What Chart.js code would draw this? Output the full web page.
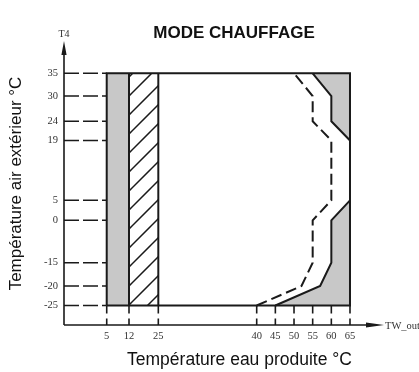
<!DOCTYPE html>
<html lang="fr">
<head>
<meta charset="utf-8">
<title>Mode chauffage</title>
<script src="https://cdn.jsdelivr.net/npm/chart.js@4.4.1/dist/chart.umd.min.js"></script>
<style>
  html, body { margin: 0; padding: 0; background: #fff; }
</style>
</head>
<body>
<canvas id="chart" width="419" height="372"></canvas>
<script>
// Tick values (°C)
const twTicks = [5, 12, 25, 40, 45, 50, 55, 60, 65];
const t4Ticks = [35, 30, 24, 19, 5, 0, -15, -20, -25];

// Operating box
const twMin = 5, twMax = 65;
const t4Min = -25, t4Max = 35;

// Left bands (TW_out ranges)
const greyBand = [5, 12];
const hatchBand = [12, 25];

// Solid limit, upper and lower part
const limitTopTw = [55, 60, 60, 65];
const limitTopT4 = [35, 30, 24, 19];
const limitLowTw = [45, 57, 60, 60, 65];
const limitLowT4 = [-25, -20, -15, 0, 5];

// Dashed limit
const dashTw = [40, 52, 55, 55, 60, 60, 55, 55, 50];
const dashT4 = [-25, -20, -15, 0, 5, 19, 24, 30, 35];

const INK = '#1a1a1a';
const GREY = '#c8c8c8';
const SERIF = '"Liberation Serif", "DejaVu Serif", serif';
const SANS = '"Liberation Sans", Arial, sans-serif';

// Linear scale made of segments, stops = [value, fraction of axis]
class StopScale extends Chart.LinearScale {
  static id = 'stops';
  static defaults = Chart.LinearScale.defaults;

  buildTicks() {
    return this.options.tickValues.map(value => ({ value }));
  }
  getPixelForValue(value) {
    if (value === null || value === undefined) return NaN;
    const s = this.options.stops;
    let i = 1;
    while (i < s.length - 1 && value > s[i][0]) i++;
    const [v0, d0] = s[i - 1], [v1, d1] = s[i];
    return this.getPixelForDecimal(d0 + (value - v0) / (v1 - v0) * (d1 - d0));
  }
  getValueForPixel(pixel) {
    const d = this.getDecimalForPixel(pixel);
    const s = this.options.stops;
    let i = 1;
    while (i < s.length - 1 && d > s[i][1]) i++;
    const [v0, d0] = s[i - 1], [v1, d1] = s[i];
    return v0 + (d - d0) / (d1 - d0) * (v1 - v0);
  }
}
Chart.register(StopScale);

const pts = (xs, ys) => xs.map((x, i) => ({ x, y: ys[i] }));

// Hatch pattern for the 12-25 band
function hatch() {
  const size = 19;
  const c = document.createElement('canvas');
  c.width = c.height = size;
  const g = c.getContext('2d');
  g.strokeStyle = INK;
  g.lineWidth = 1.5;
  g.beginPath();
  g.moveTo(-2, 18); g.lineTo(18, -2);
  g.moveTo(14, 21); g.lineTo(21, 14);
  g.stroke();
  return g.createPattern(c, 'repeat');
}

const lineDefaults = { showLine: true, pointRadius: 0, tension: 0, borderColor: INK, borderWidth: 2, fill: false };

// Axes, arrows, tick guides and labels around the plot
const decor = {
  id: 'decor',
  afterDatasetsDraw(chart) {
    const { ctx, chartArea, scales: { x, y } } = chart;
    const ox = chartArea.left, oy = chartArea.bottom;
    ctx.save();
    ctx.strokeStyle = INK;
    ctx.fillStyle = INK;

    // dashed guides from the axes to the box
    ctx.lineWidth = 1.6;
    ctx.setLineDash([15, 4]);
    const xLeft = x.getPixelForValue(twMin);
    t4Ticks.forEach(v => {
      const py = y.getPixelForValue(v);
      ctx.beginPath(); ctx.moveTo(ox, py); ctx.lineTo(xLeft, py); ctx.stroke();
    });
    ctx.setLineDash([8, 5]);
    const yBottom = y.getPixelForValue(t4Min);
    twTicks.forEach(v => {
      const px = x.getPixelForValue(v);
      ctx.beginPath(); ctx.moveTo(px, yBottom); ctx.lineTo(px, oy); ctx.stroke();
    });
    ctx.setLineDash([]);

    // axes with arrow heads
    ctx.lineWidth = 1.6;
    ctx.beginPath();
    ctx.moveTo(ox, oy); ctx.lineTo(ox, 52);
    ctx.moveTo(ox, oy); ctx.lineTo(368, oy);
    ctx.stroke();
    ctx.beginPath();
    ctx.moveTo(ox, 41); ctx.lineTo(ox - 2.6, 55); ctx.lineTo(ox + 2.6, 55); ctx.closePath();
    ctx.moveTo(384, oy); ctx.lineTo(366, oy - 2.6); ctx.lineTo(366, oy + 2.6); ctx.closePath();
    ctx.fill();

    // axis names and chart title
    ctx.fillStyle = '#333';
    ctx.font = '10px ' + SERIF;
    ctx.textAlign = 'center';
    ctx.textBaseline = 'middle';
    ctx.fillText('T4', ox, 34);
    ctx.font = '10.5px ' + SERIF;
    ctx.textAlign = 'left';
    ctx.fillText('TW_out', 385, oy + 1);

    ctx.fillStyle = '#111';
    ctx.font = 'bold 17px ' + SANS;
    ctx.textAlign = 'center';
    ctx.fillText('MODE CHAUFFAGE', 234, 33);
    ctx.restore();
  }
};

new Chart(document.getElementById('chart'), {
  type: 'scatter',
  data: {
    datasets: [
      { ...lineDefaults, data: pts([twMin, twMin, twMax, twMax, twMin], [t4Min, t4Max, t4Max, t4Min, t4Min]), borderJoinStyle: 'miter' },
      { ...lineDefaults, data: pts([greyBand[1], greyBand[1]], [t4Min, t4Max]) },
      { ...lineDefaults, data: pts([hatchBand[1], hatchBand[1]], [t4Min, t4Max]) },
      { ...lineDefaults, data: pts(dashTw, dashT4), borderDash: [11, 5] },
      { ...lineDefaults, data: pts(limitTopTw, limitTopT4), fill: { value: t4Max }, backgroundColor: GREY },
      { ...lineDefaults, data: pts(limitLowTw, limitLowT4), fill: { value: t4Min }, backgroundColor: GREY },
      { ...lineDefaults, data: pts(hatchBand, [t4Max, t4Max]), borderWidth: 0, fill: { value: t4Min }, backgroundColor: hatch() },
      { ...lineDefaults, data: pts(greyBand, [t4Max, t4Max]), borderWidth: 0, fill: { value: t4Min }, backgroundColor: GREY }
    ]
  },
  options: {
    responsive: false,
    devicePixelRatio: 1,
    animation: false,
    events: [],
    layout: { padding: { top: 42, right: 4, bottom: 0, left: 0 } },
    plugins: { legend: { display: false }, tooltip: { enabled: false } },
    scales: {
      x: {
        type: 'stops',
        min: 0,
        max: 82,
        stops: [[0, 0], [5, 0.1217], [12, 0.1852], [25, 0.2687], [40, 0.549], [65, 0.8148], [82, 1]],
        tickValues: twTicks,
        grid: { display: false, drawTicks: false },
        border: { display: false },
        ticks: { autoSkip: false, maxRotation: 0, padding: 5, color: '#333', font: { family: SERIF, size: 10.5 }, callback: v => String(v) },
        title: { display: true, text: 'Température eau produite °C', color: '#111', font: { family: SANS, size: 17.5 }, padding: { top: 0, bottom: 1 } },
        afterFit: s => { s.height = 47; }
      },
      y: {
        type: 'stops',
        min: -30,
        max: 42,
        stops: [[-30, 0], [-25, 0.0689], [-20, 0.1378], [-15, 0.2201], [0, 0.370], [5, 0.4406], [19, 0.652], [24, 0.7198], [30, 0.8092], [35, 0.8894], [42, 1]],
        tickValues: t4Ticks,
        grid: { display: false, drawTicks: false },
        border: { display: false },
        ticks: { autoSkip: false, padding: 6, color: '#333', font: { family: SERIF, size: 10.5 }, callback: v => String(v) },
        title: { display: true, text: 'Température air extérieur °C', color: '#111', font: { family: SANS, size: 17 }, padding: { top: 6, bottom: 0 } },
        afterFit: s => { s.width = 64; }
      }
    }
  },
  plugins: [decor]
});
</script>
</body>
</html>
